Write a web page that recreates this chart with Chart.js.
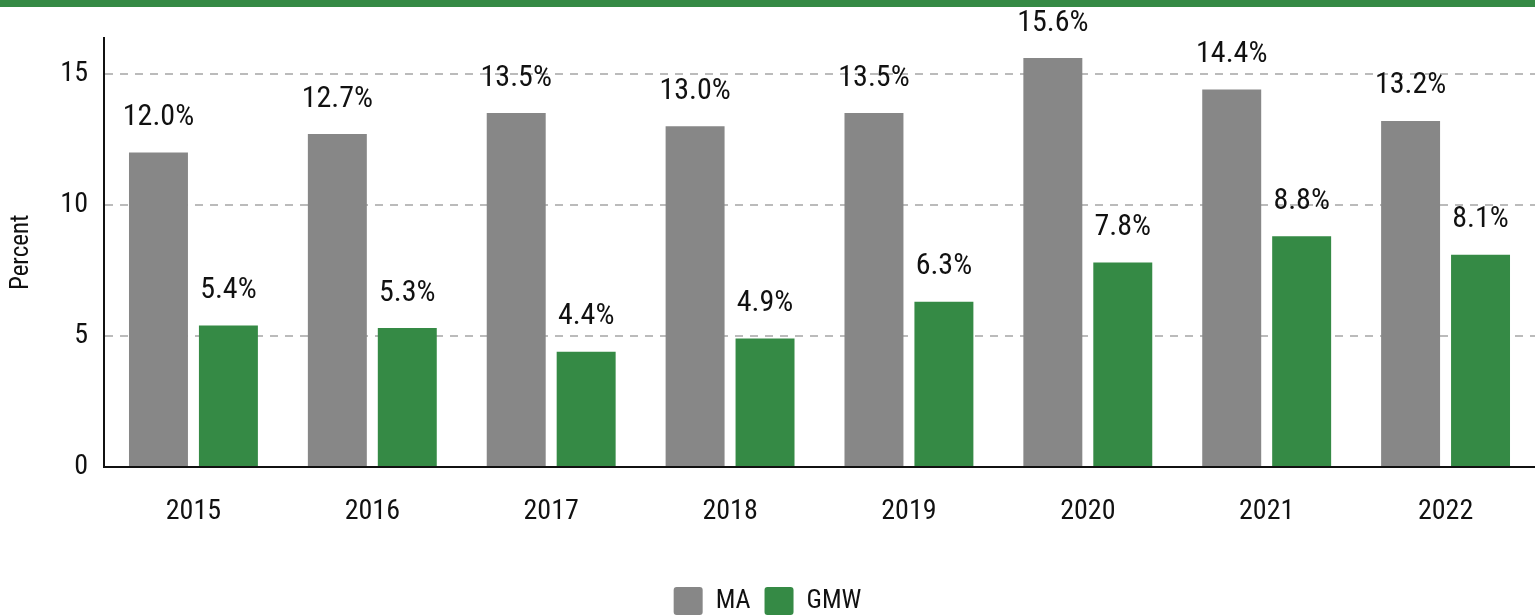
<!DOCTYPE html>
<html>
<head>
<meta charset="utf-8">
<script src="https://cdn.jsdelivr.net/npm/chart.js@4/dist/chart.umd.min.js"></script>
<style>
  html, body { margin: 0; padding: 0; background: #fff; }
  #wrap { width: 1535px; height: 609px; border-top: 7px solid #358a45; position: relative; }
</style>
</head>
<body>
<div id="wrap"><canvas id="grafico"></canvas></div>
<script>
const anos = ['2015', '2016', '2017', '2018', '2019', '2020', '2021', '2022'];
const valoresMA = [12.0, 12.7, 13.5, 13.0, 13.5, 15.6, 14.4, 13.2];
const valoresGMW = [5.4, 5.3, 4.4, 4.9, 6.3, 7.8, 8.8, 8.1];
const ticksY = [0, 5, 10, 15];

const fonte = '"Liberation Sans Narrow", "Roboto Condensed", Roboto, sans-serif';

// rótulos de valor acima das barras
const rotulos = {
    id: 'rotulos',
    afterDatasetsDraw(chart) {
        const ctx = chart.ctx;
        ctx.save();
        ctx.font = '30px ' + fonte;
        ctx.fillStyle = '#111';
        ctx.textAlign = 'center';
        ctx.textBaseline = 'bottom';
        chart.data.datasets.forEach((ds, i) => {
            chart.getDatasetMeta(i).data.forEach((bar, j) => {
                ctx.fillText(ds.data[j].toFixed(1) + '%', bar.x, bar.y - 20);
            });
        });
        ctx.restore();
    }
};

const ctx = document.getElementById('grafico').getContext('2d');
new Chart(ctx, {
    type: 'bar',
    data: {
        labels: anos,
        datasets: [{
            label: 'MA',
            data: valoresMA,
            backgroundColor: '#878787',
            categoryPercentage: 0.782,
            barPercentage: 0.843
        }, {
            label: 'GMW',
            data: valoresGMW,
            backgroundColor: '#358a45',
            categoryPercentage: 0.782,
            barPercentage: 0.843
        }]
    },
    options: {
        responsive: true,
        maintainAspectRatio: false,
        animation: false,
        layout: { padding: { top: 0, right: 0, left: 0, bottom: -9 } },
        plugins: {
            tooltip: { enabled: false },
            legend: {
                position: 'bottom',
                labels: {
                    font: { family: fonte, size: 26 },
                    color: '#111',
                    boxWidth: 29,
                    boxHeight: 28,
                    padding: 14,
                    useBorderRadius: true,
                    borderRadius: 3
                }
            }
        },
        scales: {
            x: {
                grid: { display: false, drawTicks: false },
                border: { color: '#111', width: 2 },
                ticks: { font: { family: fonte, size: 28 }, color: '#111', padding: 28 },
                afterFit(scale) { scale.height = 106; }
            },
            y: {
                min: 0,
                max: 16.38,
                afterBuildTicks(scale) { scale.ticks = ticksY.map(v => ({ value: v })); },
                grid: { color: '#bbbbbb', lineWidth: 2, drawTicks: false },
                border: { color: '#111', width: 2, dash: [8, 7] },
                ticks: { font: { family: fonte, size: 28, lineHeight: 1.04 }, color: '#111', padding: 16 },
                title: { display: true, text: 'Percent', font: { family: fonte, size: 25 }, color: '#111', padding: { top: 7, bottom: 0 } },
                afterFit(scale) { scale.width = 104; }
            }
        }
    },
    plugins: [rotulos]
});
</script>
</body>
</html>
